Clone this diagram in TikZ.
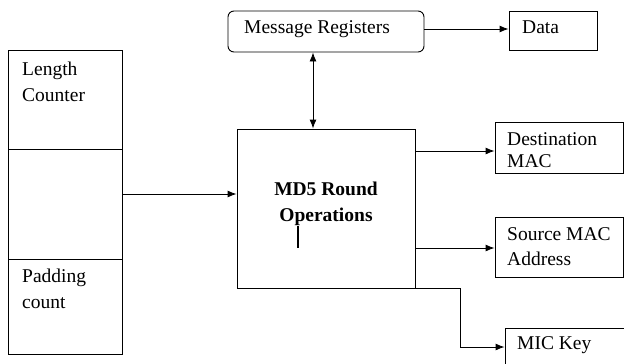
\documentclass[tikz,border=0pt]{standalone}
\usepackage{fontspec}
\setmainfont{Liberation Serif}
\usetikzlibrary{arrows.meta}
\begin{document}
\begin{tikzpicture}[x=1pt,y=-1pt,
  box/.style={draw,line width=0.9pt,inner sep=0pt,minimum width=#1},
  lbl/.style={anchor=base west,inner sep=0pt,font=\fontsize{19.5}{26}\selectfont},
  arr/.style={line width=0.9pt,-{Latex[length=9pt,width=7pt]}},
  darr/.style={line width=0.9pt,{Latex[length=9pt,width=7pt]}-{Latex[length=9pt,width=7pt]}}]
\useasboundingbox (0,0) rectangle (624,364);
\clip (0,0) rectangle (624,364);
\fill[white] (0,0) rectangle (624,364);

% left stack of counters
\node[box=114pt,minimum height=99pt] (lc) at (65,99.5) {};
\node[box=114pt,minimum height=110pt] (mid) at (65,204) {};
\node[box=114pt,minimum height=95pt] (pc) at (65,306.5) {};
\node[lbl] (lct1) at (22,75) {Length};
\node[lbl] (lct2) at (22,101) {Counter};
\node[lbl] (pct1) at (22,282) {Padding};
\node[lbl] (pct2) at (22,308) {count};

% central MD5 block
\node[box=178pt,minimum height=159pt] (md5) at (326,208.5) {};
\node[inner sep=0pt,anchor=base,font=\fontsize{19.5}{26}\selectfont\bfseries] (md5t1) at (326,195) {MD5 Round};
\node[inner sep=0pt,anchor=base,font=\fontsize{19.5}{26}\selectfont\bfseries] (md5t2) at (326,221) {Operations};
\draw[line width=2pt] (298,226) -- (298,248);

% message registers and data
\node[box=196pt,minimum height=41pt,rounded corners=6pt] (mr) at (326,31.5) {};
\node[lbl] (mrt) at (244,34) {Message Registers};
\node[box=88pt,minimum height=39pt] (data) at (553,30.5) {};
\node[lbl] (datat) at (522,33) {Data};

% outputs
\node[box=128pt,minimum height=51pt] (dest) at (559,147.5) {};
\node[lbl] (destt1) at (507,145) {Destination};
\node[lbl] (destt2) at (507,167) {MAC};
\node[box=128pt,minimum height=60pt] (src) at (559,247) {};
\node[lbl] (srct1) at (507,240) {Source MAC};
\node[lbl] (srct2) at (507,265) {Address};
\node[box=135pt,minimum height=50pt] (mic) at (572.5,353) {};
\node[lbl] (mict) at (517,349) {MIC Key};

% connectors
\draw[arr] ([yshift=10pt]mid.east) -- ([yshift=14.5pt]md5.west);
\draw[arr] (mr.east |- 0,29) -- (data.west |- 0,29);
\draw[darr] ([xshift=-13pt]mr.south) -- ([xshift=-13pt]md5.north);
\draw[arr] (md5.east |- 0,151) -- (dest.west |- 0,151);
\draw[arr] (md5.east |- 0,248) -- (src.west |- 0,248);
\draw[arr] (md5.south east) -| (460,347) -- (mic.west |- 0,347);
\end{tikzpicture}
\end{document}
